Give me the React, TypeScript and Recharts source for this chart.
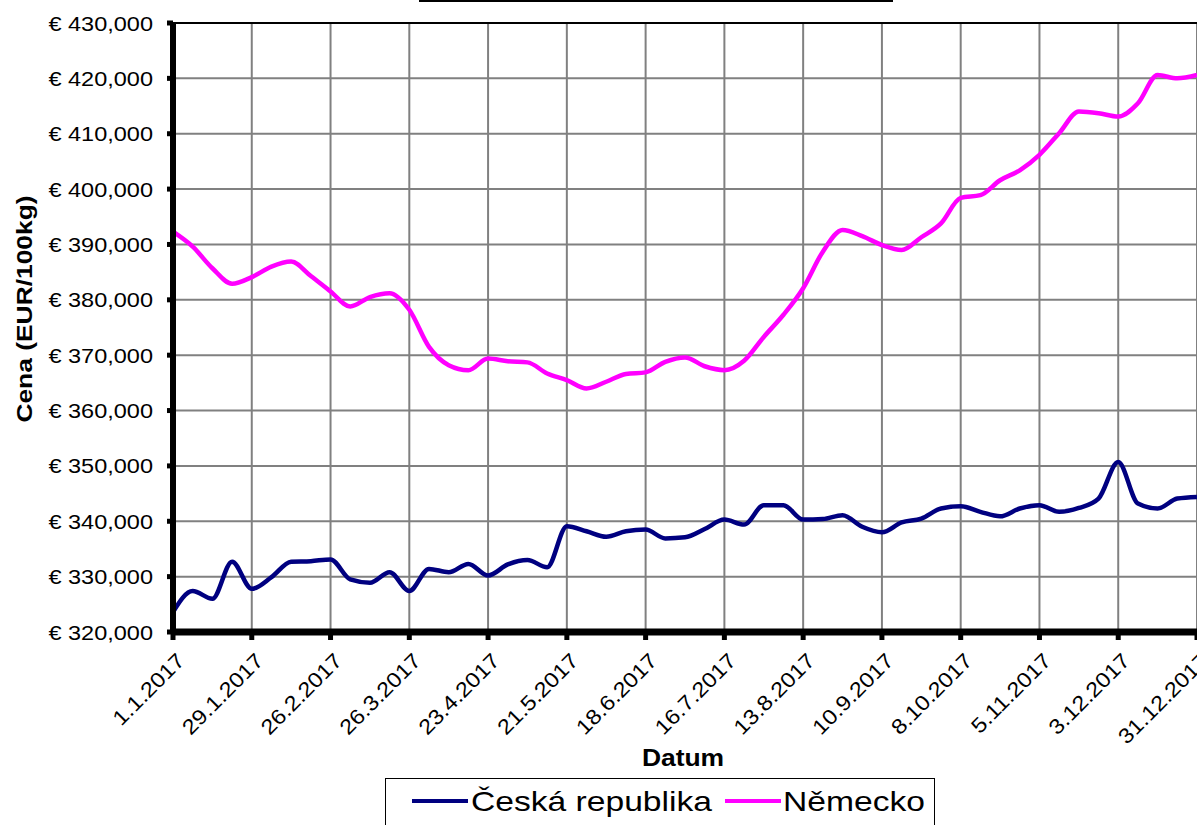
import {
  LineChart,
  Line,
  XAxis,
  YAxis,
  CartesianGrid,
  Legend,
  ReferenceLine,
} from "recharts";

// týdenní ceny 2017 (EUR/100kg)
const datumy = [
  "1.1.2017", "8.1.2017", "15.1.2017", "22.1.2017", "29.1.2017",
  "5.2.2017", "12.2.2017", "19.2.2017", "26.2.2017",
  "5.3.2017", "12.3.2017", "19.3.2017", "26.3.2017",
  "2.4.2017", "9.4.2017", "16.4.2017", "23.4.2017", "30.4.2017",
  "7.5.2017", "14.5.2017", "21.5.2017", "28.5.2017",
  "4.6.2017", "11.6.2017", "18.6.2017", "25.6.2017",
  "2.7.2017", "9.7.2017", "16.7.2017", "23.7.2017", "30.7.2017",
  "6.8.2017", "13.8.2017", "20.8.2017", "27.8.2017",
  "3.9.2017", "10.9.2017", "17.9.2017", "24.9.2017",
  "1.10.2017", "8.10.2017", "15.10.2017", "22.10.2017", "29.10.2017",
  "5.11.2017", "12.11.2017", "19.11.2017", "26.11.2017",
  "3.12.2017", "10.12.2017", "17.12.2017", "24.12.2017", "31.12.2017",
];

const ceskaRepublika = [
  323.6, 327.4, 326.0, 332.7, 327.8, 329.9, 332.7, 332.8, 333.1, 329.5,
  328.9, 330.8, 327.4, 331.4, 330.8, 332.3, 330.2, 332.2, 333.0, 331.7,
  339.1, 338.2, 337.2, 338.2, 338.5, 336.9, 337.1, 338.6, 340.3, 339.4,
  342.9, 342.9, 340.3, 340.4, 341.1, 339.0, 338.0, 339.8, 340.5, 342.3,
  342.7, 341.7, 340.9, 342.3, 342.9, 341.7, 342.4, 344.1, 350.7, 343.2,
  342.3, 344.1, 344.4,
];

const nemecko = [
  392.3, 389.6, 385.7, 382.9, 384.1, 386.0, 386.9, 384.3, 381.5, 378.8,
  380.5, 381.2, 378.2, 371.5, 368.2, 367.3, 369.4, 368.9, 368.7, 366.7,
  365.5, 364.0, 365.2, 366.6, 366.9, 368.8, 369.6, 368.0, 367.3, 369.0,
  373.3, 377.3, 382.1, 388.7, 392.6, 391.5, 389.9, 389.0, 391.3, 393.8,
  398.4, 398.9, 401.6, 403.4, 406.2, 410.1, 414.0, 413.7, 413.1, 415.5,
  420.6, 420.0, 420.6,
];

const xTicks = [
  "1.1.2017", "29.1.2017", "26.2.2017", "26.3.2017", "23.4.2017",
  "21.5.2017", "18.6.2017", "16.7.2017", "13.8.2017", "10.9.2017",
  "8.10.2017", "5.11.2017", "3.12.2017", "31.12.2017",
];

const yTicks = [320, 330, 340, 350, 360, 370, 380, 390, 400, 410, 420, 430];

const data = datumy.map((d, i) => ({
  datum: d,
  cz: ceskaRepublika[i],
  de: nemecko[i],
}));

const FONT = "'Liberation Sans', Arial, sans-serif";

const formatEuro = (v: number) => `€ ${v.toFixed(3).replace(".", ",")}`;

const YTick = (props: any) => {
  const { x, y, payload } = props;
  return (
    <g transform={`translate(${x - 12},${y})`}>
      <text
        x={0}
        y={0}
        dy={7.5}
        textAnchor="end"
        fontSize={21}
        fill="#000"
        fontFamily={FONT}
        transform="scale(1.12,1)"
      >
        {formatEuro(Number(payload.value))}
      </text>
    </g>
  );
};

const XTick = (props: any) => {
  const { x, y, payload } = props;
  return (
    <g transform={`translate(${x + 13},${y + 20}) rotate(-45)`}>
      <text
        x={0}
        y={0}
        textAnchor="end"
        fontSize={21}
        fill="#000"
        fontFamily={FONT}
        transform="scale(1.12,1)"
      >
        {payload.value}
      </text>
    </g>
  );
};

const LegendBox = () => (
  <div
    style={{
      position: "relative",
      width: 550,
      height: 52,
      boxSizing: "border-box",
      border: "1px solid #000",
      background: "#fff",
      fontFamily: FONT,
    }}
  >
    <div style={{ position: "absolute", left: 26, top: 20, width: 56, height: 4, background: "#000080" }} />
    <div
      style={{
        position: "absolute",
        left: 85,
        top: 9,
        fontSize: 28,
        lineHeight: "28px",
        whiteSpace: "nowrap",
        transform: "scale(1.2,1)",
        transformOrigin: "left center",
      }}
    >
      Česká republika
    </div>
    <div style={{ position: "absolute", left: 339, top: 20, width: 56, height: 4, background: "#ff00ff" }} />
    <div
      style={{
        position: "absolute",
        left: 397,
        top: 9,
        fontSize: 28,
        lineHeight: "28px",
        whiteSpace: "nowrap",
        transform: "scale(1.2,1)",
        transformOrigin: "left center",
      }}
    >
      Německo
    </div>
  </div>
);

export default function App() {
  return (
    <div
      style={{
        position: "absolute",
        left: 0,
        top: 0,
        width: 1197,
        height: 825,
        overflow: "hidden",
        background: "#fff",
      }}
    >
      {/* podtržení useknutého nadpisu */}
      <div style={{ position: "absolute", left: 419, top: 0, width: 474, height: 2, background: "#000", zIndex: 2 }} />
      <LineChart
        width={1197}
        height={825}
        data={data}
        margin={{ top: 23, right: 0, bottom: 0, left: 0 }}
      >
        <CartesianGrid stroke="#808080" strokeWidth={2} />
        <XAxis
          dataKey="datum"
          ticks={xTicks}
          interval={0}
          height={141}
          tick={(p: any) => <XTick {...p} />}
          tickSize={8}
          axisLine={{ stroke: "#000", strokeWidth: 7 }}
          tickLine={{ stroke: "#000", strokeWidth: 5 }}
          label={{
            content: (p: any) => {
              const vb = p.viewBox || { x: 173, y: 632, width: 1024, height: 141 };
              return (
                <g transform={`translate(${vb.x + vb.width / 2 - 2},766)`}>
                  <text
                    textAnchor="middle"
                    fontSize={23}
                    fontWeight="bold"
                    fontFamily={FONT}
                    fill="#000"
                    transform="scale(1.15,1)"
                  >
                    Datum
                  </text>
                </g>
              );
            },
          }}
        />
        <YAxis
          width={173}
          domain={[320, 430]}
          ticks={yTicks}
          interval={0}
          tick={(p: any) => <YTick {...p} />}
          tickSize={6}
          axisLine={{ stroke: "#000", strokeWidth: 6 }}
          tickLine={{ stroke: "#000", strokeWidth: 5 }}
          label={{
            content: () => (
              <g transform="translate(32,309) rotate(-90)">
                <text
                  textAnchor="middle"
                  fontSize={22}
                  fontWeight="bold"
                  fontFamily={FONT}
                  fill="#000"
                  transform="scale(1.2,1)"
                >
                  Cena (EUR/100kg)
                </text>
              </g>
            ),
          }}
        />
        <ReferenceLine y={430} stroke="#000" strokeWidth={2} />
        <Legend
          verticalAlign="bottom"
          wrapperStyle={{ top: 778, left: 385, width: 550 }}
          content={() => <LegendBox />}
        />
        <Line
          type="monotone"
          dataKey="cz"
          name="Česká republika"
          stroke="#000080"
          strokeWidth={4.5}
          dot={false}
          isAnimationActive={false}
        />
        <Line
          type="monotone"
          dataKey="de"
          name="Německo"
          stroke="#ff00ff"
          strokeWidth={4.5}
          dot={false}
          isAnimationActive={false}
        />
      </LineChart>
    </div>
  );
}
